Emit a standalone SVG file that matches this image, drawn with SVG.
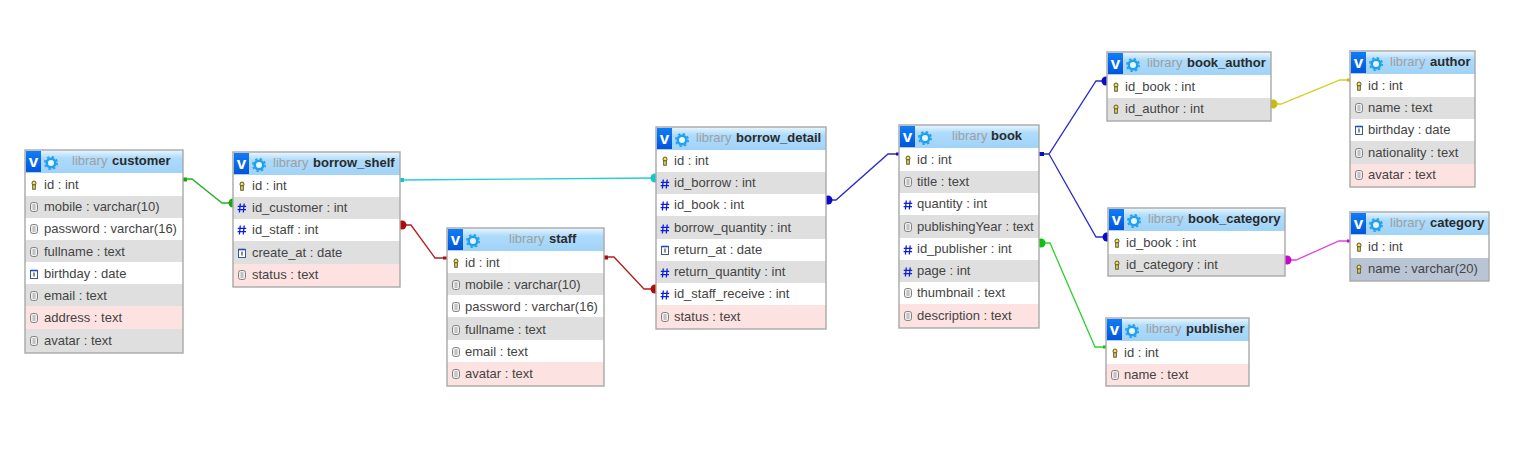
<svg xmlns="http://www.w3.org/2000/svg" width="1536" height="460" viewBox="0 0 1536 460">
<style>
text{font-family:"Liberation Sans",Arial,sans-serif}
.t{font-size:13px;fill:#444;transform:translateY(-.5px)}
.l{font-size:13px;fill:#a0a0a0;transform:translateY(-1.5px)}
.n{font-size:13px;font-weight:bold;fill:#2a2a2a;transform:translateY(-1.5px)}
.v{font-size:17px;font-weight:bold;fill:#fff;text-anchor:middle}
.h{fill:url(#hg)}
.w{fill:#fff}
.g{fill:#dfdfdf}
.p{fill:#fde2e2}
.s{fill:#b9c5d4}
.b{fill:none;stroke:#a8a8a8;stroke-width:1.4}
.c{fill:none;stroke-width:1.3}
</style>
<defs>
<linearGradient id="hg" x1="0" y1="0" x2="0" y2="1"><stop offset="0" stop-color="#eaf7ff"/><stop offset=".35" stop-color="#aedbfb"/><stop offset="1" stop-color="#a0d3f8"/></linearGradient>
<linearGradient id="bg" x1="0" y1="0" x2="0" y2="1"><stop offset="0" stop-color="#0f7df5"/><stop offset="1" stop-color="#0455dc"/></linearGradient>
<g id="head">
<rect x="1" y="1" width="15" height="21" fill="url(#bg)"/>
<text class="v" x="8.5" y="17">v</text>
<circle cx="26" cy="13" r="4.300" fill="#e6f6ff" stroke="#22a0ee" stroke-width="2.600"/>
<circle cx="26" cy="13" r="6.200" fill="none" stroke="#22a0ee" stroke-width="1.600" stroke-dasharray="2.400 2.470"/>
</g>
<g id="k"><ellipse cx="0" cy="-1.800" rx="2" ry="2.200" fill="#f2e35a" stroke="#5a5530" stroke-width="1"/><rect x="-1.300" y="-.2" width="2.600" height="4.400" fill="#efe05a" stroke="#5a5530" stroke-width="1"/></g>
<g id="d"><rect x="-3.500" y="-4.500" width="7" height="9" rx="2.200" fill="#efefef" stroke="#808080"/><path d="M-1.500-2H1.500M-1.500 0H1.500M-1.500 2H1.500" stroke="#808080" stroke-width=".8"/></g>
<g id="m"><path d="M-1.700-4.500-2.600 4.500M2.200-4.500 1.300 4.500M-4.200-1.600H4.200M-4.400 1.600H4" stroke="#0a1ee0" stroke-width="1.300" fill="none"/></g>
<g id="a"><rect x="-3.500" y="-3.500" width="7" height="8" fill="#fff" stroke="#3a5a9a"/><path d="M-3.500-3.500H3.500" stroke="#1d4fb5" stroke-width="1.600"/><path d="M0-1.500V2.500" stroke="#222"/></g>
</defs>

<g id="connectors">
<g stroke="#22b022" fill="#12a812"><path class="c" d="M183 179H192L222 203H233"/><rect x="183" y="177.500" width="4" height="4" stroke="none"/><circle cx="233" cy="203" r="4.500" stroke="none"/></g>
<g stroke="#20d0d0" fill="#10c8c8"><path class="c" d="M400 180L655 178"/><rect x="400" y="178" width="4" height="4" stroke="none"/><circle cx="655" cy="178" r="4.500" stroke="none"/></g>
<g stroke="#b02020" fill="#b00c0c"><path class="c" d="M400 225H411L435 258H447"/><circle cx="402" cy="225" r="4.500" stroke="none"/><rect x="443" y="256.500" width="4" height="3" stroke="none"/></g>
<g stroke="#b02020" fill="#b00c0c"><path class="c" d="M604 257H614L644 289H656"/><rect x="604" y="255.500" width="4" height="4" stroke="none"/><circle cx="655" cy="289" r="4.500" stroke="none"/></g>
<g stroke="#2a2ad0" fill="#0c0cc8"><path class="c" d="M826 200H836L888 154H899"/><circle cx="828" cy="200" r="4.500" stroke="none"/><rect x="896" y="152.500" width="3" height="3" stroke="none"/></g>
<g stroke="#2a2ad0" fill="#0c0cc8"><path class="c" d="M1039 154H1049L1096 81H1107"/><path class="c" d="M1049 154L1096 237H1108"/><rect x="1039" y="152" width="5" height="4" stroke="none"/><circle cx="1106" cy="81" r="4.500" stroke="none"/><circle cx="1107" cy="237" r="4.500" stroke="none"/></g>
<g stroke="#30d030" fill="#10c010"><path class="c" d="M1039 243H1050L1095 347H1106"/><circle cx="1041" cy="243" r="4.500" stroke="none"/><rect x="1103" y="345.500" width="3" height="3" stroke="none"/></g>
<g stroke="#d8cc20" fill="#c8bc08"><path class="c" d="M1271 104H1281L1340 80H1350"/><circle cx="1273" cy="104" r="4.500" stroke="none"/><rect x="1347" y="78.500" width="3" height="3" stroke="none"/></g>
<g stroke="#e040e0" fill="#c808c8"><path class="c" d="M1285 260H1296L1339 241H1350"/><circle cx="1287" cy="260" r="4.500" stroke="none"/><rect x="1347" y="239.500" width="3" height="3" stroke="none"/></g>
</g>

<g id="customer" transform="translate(25 150)">
<rect class="h" width="158" height="23"/><rect class="w" y="23" width="158" height="23"/><rect class="g" y="46" width="158" height="22"/><rect class="w" y="68" width="158" height="22"/><rect class="g" y="90" width="158" height="22"/><rect class="w" y="112" width="158" height="22"/><rect class="g" y="134" width="158" height="22"/><rect class="p" y="156" width="158" height="23"/><rect class="g" y="179" width="158" height="24"/>
<use href="#head"/><text class="l" x="47" y="16">library</text><text class="n" x="87" y="16">customer</text>
<use href="#k" x="9" y="35"/><text class="t" x="19" y="39">id : int</text>
<use href="#d" x="9" y="57"/><text class="t" x="19" y="61">mobile : varchar(10)</text>
<use href="#d" x="9" y="79"/><text class="t" x="19" y="83">password : varchar(16)</text>
<use href="#d" x="9" y="102"/><text class="t" x="19" y="106">fullname : text</text>
<use href="#a" x="9" y="124"/><text class="t" x="19" y="128">birthday : date</text>
<use href="#d" x="9" y="146"/><text class="t" x="19" y="150">email : text</text>
<use href="#d" x="9" y="168"/><text class="t" x="19" y="172">address : text</text>
<use href="#d" x="9" y="191"/><text class="t" x="19" y="195">avatar : text</text>
<rect class="b" width="158" height="203"/>
</g>

<g id="borrow_shelf" transform="translate(233 152)">
<rect class="h" width="167" height="23"/><rect class="w" y="23" width="167" height="22"/><rect class="g" y="45" width="167" height="22"/><rect class="w" y="67" width="167" height="22"/><rect class="g" y="89" width="167" height="23"/><rect class="p" y="112" width="167" height="23"/>
<use href="#head"/><text class="l" x="40" y="16">library</text><text class="n" x="80" y="16">borrow_shelf</text>
<use href="#k" x="9" y="34"/><text class="t" x="19" y="38">id : int</text>
<use href="#m" x="9" y="56"/><text class="t" x="19" y="60">id_customer : int</text>
<use href="#m" x="9" y="78"/><text class="t" x="19" y="82">id_staff : int</text>
<use href="#a" x="9" y="101"/><text class="t" x="19" y="105">create_at : date</text>
<use href="#d" x="9" y="123"/><text class="t" x="19" y="127">status : text</text>
<rect class="b" width="167" height="135"/>
</g>

<g id="staff" transform="translate(447 228)">
<rect class="h" width="157" height="23"/><rect class="w" y="23" width="157" height="22"/><rect class="g" y="45" width="157" height="22"/><rect class="w" y="67" width="157" height="22"/><rect class="g" y="89" width="157" height="23"/><rect class="w" y="112" width="157" height="22"/><rect class="p" y="134" width="157" height="24"/>
<use href="#head"/><text class="l" x="62" y="16">library</text><text class="n" x="102" y="16">staff</text>
<use href="#k" x="9" y="35"/><text class="t" x="18" y="39">id : int</text>
<use href="#d" x="9" y="57"/><text class="t" x="18" y="61">mobile : varchar(10)</text>
<use href="#d" x="9" y="79"/><text class="t" x="18" y="83">password : varchar(16)</text>
<use href="#d" x="9" y="102"/><text class="t" x="18" y="106">fullname : text</text>
<use href="#d" x="9" y="124"/><text class="t" x="18" y="128">email : text</text>
<use href="#d" x="9" y="146"/><text class="t" x="18" y="150">avatar : text</text>
<rect class="b" width="157" height="158"/>
</g>

<g id="borrow_detail" transform="translate(656 127)">
<rect class="h" width="170" height="23"/><rect class="w" y="23" width="170" height="22"/><rect class="g" y="45" width="170" height="22"/><rect class="w" y="67" width="170" height="22"/><rect class="g" y="89" width="170" height="23"/><rect class="w" y="112" width="170" height="22"/><rect class="g" y="134" width="170" height="22"/><rect class="w" y="156" width="170" height="22"/><rect class="p" y="178" width="170" height="24"/>
<use href="#head"/><text class="l" x="40" y="16">library</text><text class="n" x="80" y="16">borrow_detail</text>
<use href="#k" x="9" y="34"/><text class="t" x="18" y="38">id : int</text>
<use href="#m" x="9" y="57"/><text class="t" x="18" y="60">id_borrow : int</text>
<use href="#m" x="9" y="79"/><text class="t" x="18" y="82">id_book : int</text>
<use href="#m" x="9" y="102"/><text class="t" x="18" y="105">borrow_quantity : int</text>
<use href="#a" x="9" y="123"/><text class="t" x="18" y="127">return_at : date</text>
<use href="#m" x="9" y="146"/><text class="t" x="18" y="149">return_quantity : int</text>
<use href="#m" x="9" y="168"/><text class="t" x="18" y="171">id_staff_receive : int</text>
<use href="#d" x="9" y="190"/><text class="t" x="18" y="194">status : text</text>
<rect class="b" width="170" height="202"/>
</g>

<g id="book" transform="translate(899 125)">
<rect class="h" width="140" height="23"/><rect class="w" y="23" width="140" height="23"/><rect class="g" y="46" width="140" height="22"/><rect class="w" y="68" width="140" height="22"/><rect class="g" y="90" width="140" height="23"/><rect class="w" y="113" width="140" height="22"/><rect class="g" y="135" width="140" height="22"/><rect class="w" y="157" width="140" height="22"/><rect class="p" y="179" width="140" height="24"/>
<use href="#head"/><text class="l" x="53" y="16">library</text><text class="n" x="92" y="16">book</text>
<use href="#k" x="9" y="35"/><text class="t" x="18" y="39">id : int</text>
<use href="#d" x="9" y="57"/><text class="t" x="18" y="61">title : text</text>
<use href="#m" x="9" y="80"/><text class="t" x="18" y="83">quantity : int</text>
<use href="#d" x="9" y="102"/><text class="t" x="18" y="106">publishingYear : text</text>
<use href="#m" x="9" y="125"/><text class="t" x="18" y="128">id_publisher : int</text>
<use href="#m" x="9" y="147"/><text class="t" x="18" y="150">page : int</text>
<use href="#d" x="9" y="168"/><text class="t" x="18" y="172">thumbnail : text</text>
<use href="#d" x="9" y="191"/><text class="t" x="18" y="195">description : text</text>
<rect class="b" width="140" height="203"/>
</g>

<g id="book_author" transform="translate(1107 52)">
<rect class="h" width="164" height="23"/><rect class="w" y="23" width="164" height="23"/><rect class="g" y="46" width="164" height="23"/>
<use href="#head"/><text class="l" x="40" y="16">library</text><text class="n" x="80" y="16">book_author</text>
<use href="#k" x="9" y="35"/><text class="t" x="18" y="39">id_book : int</text>
<use href="#k" x="9" y="57"/><text class="t" x="18" y="61">id_author : int</text>
<rect class="b" width="164" height="69"/>
</g>

<g id="book_category" transform="translate(1108 208)">
<rect class="h" width="177" height="23"/><rect class="w" y="23" width="177" height="23"/><rect class="g" y="46" width="177" height="22"/>
<use href="#head"/><text class="l" x="40" y="16">library</text><text class="n" x="80" y="16">book_category</text>
<use href="#k" x="9" y="35"/><text class="t" x="18" y="39">id_book : int</text>
<use href="#k" x="9" y="57"/><text class="t" x="18" y="61">id_category : int</text>
<rect class="b" width="177" height="68"/>
</g>

<g id="publisher" transform="translate(1106 318)">
<rect class="h" width="143" height="23"/><rect class="w" y="23" width="143" height="23"/><rect class="p" y="46" width="143" height="22"/>
<use href="#head"/><text class="l" x="40" y="16">library</text><text class="n" x="80" y="16">publisher</text>
<use href="#k" x="9" y="35"/><text class="t" x="18" y="39">id : int</text>
<use href="#d" x="9" y="57"/><text class="t" x="18" y="61">name : text</text>
<rect class="b" width="143" height="68"/>
</g>

<g id="author" transform="translate(1350 51)">
<rect class="h" width="125" height="23"/><rect class="w" y="23" width="125" height="23"/><rect class="g" y="46" width="125" height="22"/><rect class="w" y="68" width="125" height="22"/><rect class="g" y="90" width="125" height="23"/><rect class="p" y="113" width="125" height="23"/>
<use href="#head"/><text class="l" x="40" y="16">library</text><text class="n" x="80" y="16">author</text>
<use href="#k" x="9" y="35"/><text class="t" x="18" y="39">id : int</text>
<use href="#d" x="9" y="57"/><text class="t" x="18" y="61">name : text</text>
<use href="#a" x="9" y="79"/><text class="t" x="18" y="83">birthday : date</text>
<use href="#d" x="9" y="102"/><text class="t" x="18" y="106">nationality : text</text>
<use href="#d" x="9" y="124"/><text class="t" x="18" y="128">avatar : text</text>
<rect class="b" width="125" height="136"/>
</g>

<g id="category" transform="translate(1350 212)">
<rect class="h" width="139" height="23"/><rect class="w" y="23" width="139" height="23"/><rect class="s" y="46" width="139" height="23"/>
<use href="#head"/><text class="l" x="40" y="16">library</text><text class="n" x="80" y="16">category</text>
<use href="#k" x="9" y="35"/><text class="t" x="18" y="39">id : int</text>
<use href="#k" x="9" y="57"/><text class="t" x="18" y="61">name : varchar(20)</text>
<rect class="b" width="139" height="69"/>
</g>
</svg>
